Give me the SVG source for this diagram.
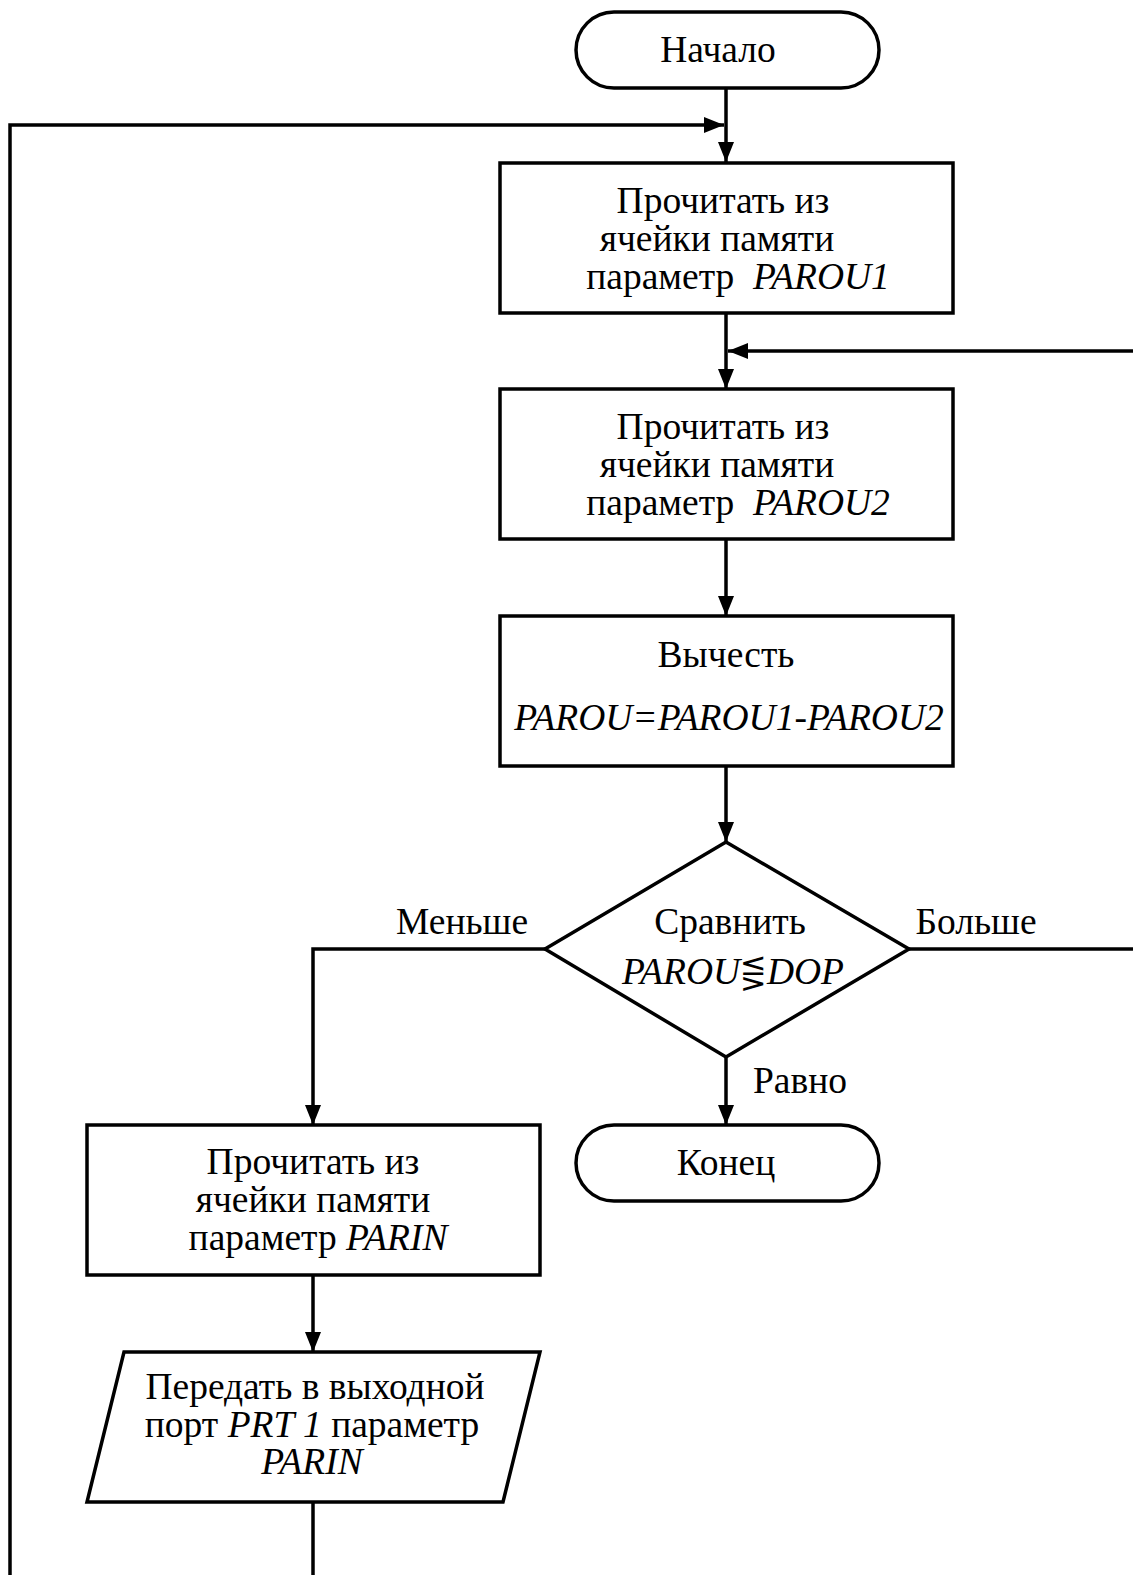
<svg xmlns="http://www.w3.org/2000/svg" width="1133" height="1575" viewBox="0 0 1133 1575">
<style>
.s{fill:none;stroke:#000;stroke-width:3.5}
.n{fill:#fff;stroke:#000;stroke-width:3.5}
text{font-family:"Liberation Serif","Times New Roman",serif;font-size:37.5px;fill:#000;text-anchor:middle}
.i{font-style:italic}
</style>
<defs>
<marker id="a" viewBox="0 0 20 16" refX="20" refY="8" markerWidth="20" markerHeight="16" markerUnits="userSpaceOnUse" orient="auto">
<path d="M0,0 L20,8 L0,16 Z" fill="#000"/>
</marker>
</defs>
<rect width="1133" height="1575" fill="#fff"/>
<g id="connectors">
<line class="s" x1="726" y1="88" x2="726" y2="162" marker-end="url(#a)"/>
<polyline class="s" points="10,1575 10,125 724,125" marker-end="url(#a)"/>
<line class="s" x1="726" y1="313" x2="726" y2="389" marker-end="url(#a)"/>
<line class="s" x1="1133" y1="351" x2="728" y2="351" marker-end="url(#a)"/>
<line class="s" x1="726" y1="539" x2="726" y2="616" marker-end="url(#a)"/>
<line class="s" x1="726" y1="766" x2="726" y2="842" marker-end="url(#a)"/>
<polyline class="s" points="545,949 313,949 313,1125" marker-end="url(#a)"/>
<line class="s" x1="909" y1="949" x2="1133" y2="949"/>
<line class="s" x1="726" y1="1057" x2="726" y2="1125" marker-end="url(#a)"/>
<line class="s" x1="313" y1="1275" x2="313" y2="1352" marker-end="url(#a)"/>
<line class="s" x1="313" y1="1502" x2="313" y2="1575"/>
<text x="462" y="934">Меньше</text>
<text x="976" y="934">Больше</text>
<text x="800" y="1093">Равно</text>
</g>
<g id="start">
<rect class="n" x="576" y="12" width="303" height="76" rx="38" ry="38"/>
<text x="718" y="62">Начало</text>
</g>
<g id="read1">
<rect class="n" x="500" y="163" width="453" height="150"/>
<text x="723" y="213">Прочитать из</text>
<text x="717" y="251">ячейки памяти</text>
<text x="738" y="289">параметр &#160;<tspan class="i">PAROU1</tspan></text>
</g>
<g id="read2">
<rect class="n" x="500" y="389" width="453" height="150"/>
<text x="723" y="439">Прочитать из</text>
<text x="717" y="477">ячейки памяти</text>
<text x="738" y="515">параметр &#160;<tspan class="i">PAROU2</tspan></text>
</g>
<g id="subtract">
<rect class="n" x="500" y="616" width="453" height="150"/>
<text x="726" y="667">Вычесть</text>
<text x="729" y="730" class="i">PAROU=PAROU1-PAROU2</text>
</g>
<g id="compare">
<polygon class="n" points="726,842 909,949 726,1057 545,949"/>
<text x="730" y="934">Сравнить</text>
<text x="733" y="984" class="i">PAROU<tspan font-family="DejaVu Sans,sans-serif" font-size="32">⋚</tspan>DOP</text>
</g>
<g id="end">
<rect class="n" x="576" y="1125" width="303" height="76" rx="38" ry="38"/>
<text x="726" y="1175">Конец</text>
</g>
<g id="read3">
<rect class="n" x="87" y="1125" width="453" height="150"/>
<text x="313" y="1174">Прочитать из</text>
<text x="313" y="1212">ячейки памяти</text>
<text x="318" y="1250">параметр <tspan class="i">PARIN</tspan></text>
</g>
<g id="output">
<polygon class="n" points="124,1352 540,1352 503,1502 87,1502"/>
<text x="315" y="1399">Передать в выходной</text>
<text x="312" y="1437">порт <tspan class="i">PRT 1</tspan> параметр</text>
<text x="312" y="1474" class="i">PARIN</text>
</g>
</svg>
